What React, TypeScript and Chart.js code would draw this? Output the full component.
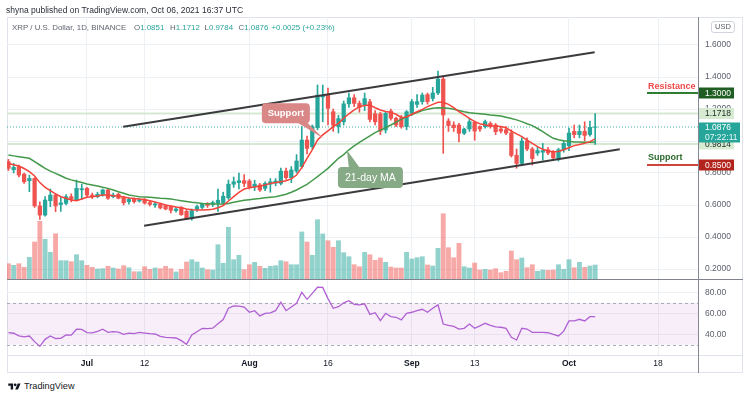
import React, { useEffect, useRef } from 'react';
import { Chart, registerables } from 'chart.js';

Chart.register(...registerables);

const FONT = '"Liberation Sans", Arial, Helvetica, sans-serif';
Chart.defaults.font.family = FONT;

// Day numbers counted from Jul 1 2021 (= 0). First candle is Jun 16 (= -15).
const FIRST_DAY = -15;

const opens = [
  0.871, 0.82, 0.84, 0.793, 0.752, 0.766, 0.594, 0.537, 0.627, 0.662, 0.603, 0.61, 0.652, 0.631, 0.695,
  0.704, 0.662, 0.652, 0.662, 0.694, 0.652, 0.667, 0.646, 0.621, 0.635, 0.625, 0.63, 0.615, 0.6, 0.606, 0.595, 0.589, 0.565, 0.585, 0.56, 0.517, 0.575, 0.585, 0.607, 0.605, 0.612, 0.615, 0.645, 0.73, 0.74, 0.752,
  0.75, 0.714, 0.725, 0.704, 0.73, 0.737, 0.735, 0.812, 0.771, 0.812, 0.84, 1.006, 0.965, 1.083, 1.275, 1.287, 1.183, 1.09, 1.12, 1.232, 1.27, 1.235, 1.225, 1.245, 1.17, 1.17, 1.069, 1.187, 1.142, 1.142, 1.09,
  1.173, 1.229, 1.246, 1.29, 1.266, 1.3, 1.387, 1.125, 1.1, 1.1, 1.048, 1.075, 1.117, 1.09, 1.09, 1.11, 1.1, 1.075, 1.07, 1.05, 0.91, 0.86, 1.0, 0.95, 0.925, 0.93, 0.945, 0.93, 0.89, 0.945,
  0.97, 1.06, 1.04, 1.06, 1.04, 1.0851,
];
const highs = [
  0.885, 0.86, 0.85, 0.8, 0.787, 0.77, 0.62, 0.652, 0.7, 0.67, 0.65, 0.665, 0.67, 0.756, 0.73,
  0.71, 0.675, 0.68, 0.7, 0.7, 0.675, 0.675, 0.655, 0.645, 0.645, 0.64, 0.64, 0.625, 0.615, 0.612, 0.6, 0.595, 0.585, 0.59, 0.57, 0.575, 0.6, 0.612, 0.615, 0.625, 0.7, 0.68, 0.756, 0.775, 0.8, 0.79,
  0.76, 0.755, 0.735, 0.745, 0.765, 0.765, 0.83, 0.83, 0.84, 0.915, 1.09, 1.03, 1.1, 1.35, 1.35, 1.33, 1.2, 1.16, 1.25, 1.3, 1.29, 1.25, 1.3, 1.26, 1.19, 1.18, 1.18, 1.2, 1.15, 1.16, 1.19,
  1.26, 1.29, 1.3, 1.3, 1.335, 1.4375, 1.4, 1.14, 1.12, 1.11, 1.08, 1.14, 1.125, 1.095, 1.13, 1.12, 1.11, 1.09, 1.09, 1.07, 0.95, 1.02, 1.02, 0.96, 0.96, 0.985, 0.96, 0.94, 0.955, 1.0,
  1.08, 1.1, 1.1, 1.12, 1.125, 1.1712,
];
const lows = [
  0.815, 0.8, 0.775, 0.735, 0.683, 0.585, 0.51, 0.53, 0.59, 0.558, 0.56, 0.6, 0.62, 0.628, 0.635,
  0.65, 0.64, 0.645, 0.655, 0.635, 0.645, 0.638, 0.6, 0.605, 0.612, 0.618, 0.605, 0.595, 0.585, 0.575, 0.57, 0.55, 0.555, 0.535, 0.51, 0.505, 0.56, 0.575, 0.585, 0.59, 0.56, 0.6, 0.635, 0.71, 0.7, 0.715,
  0.7, 0.69, 0.685, 0.69, 0.68, 0.72, 0.725, 0.76, 0.74, 0.8, 0.83, 0.92, 0.95, 1.07, 1.12, 1.1, 1.06, 1.05, 1.1, 1.21, 1.215, 1.18, 1.19, 1.12, 1.1, 1.04, 1.05, 1.13, 1.09, 1.08, 1.07,
  1.16, 1.21, 1.23, 1.23, 1.25, 1.29, 0.923, 1.06, 1.06, 0.995, 1.04, 1.06, 1.005, 1.06, 1.08, 1.08, 1.04, 1.05, 1.04, 0.9, 0.83, 0.85, 0.94, 0.85, 0.91, 0.88, 0.915, 0.885, 0.875, 0.93,
  0.94, 1.02, 1.02, 1.0, 1.03, 0.9784,
];
const closes = [
  0.829, 0.835, 0.787, 0.745, 0.766, 0.594, 0.537, 0.631, 0.662, 0.594, 0.613, 0.652, 0.636, 0.704, 0.702,
  0.662, 0.652, 0.667, 0.694, 0.642, 0.662, 0.642, 0.614, 0.635, 0.621, 0.633, 0.612, 0.604, 0.607, 0.582, 0.575, 0.567, 0.575, 0.54, 0.515, 0.565, 0.59, 0.607, 0.597, 0.615, 0.63, 0.655, 0.73, 0.745, 0.752, 0.735,
  0.714, 0.73, 0.694, 0.735, 0.745, 0.75, 0.812, 0.771, 0.819, 0.875, 1.006, 0.954, 1.09, 1.287, 1.285, 1.204, 1.1, 1.14, 1.232, 1.27, 1.235, 1.21, 1.265, 1.135, 1.12, 1.062, 1.173, 1.142, 1.1, 1.09, 1.183,
  1.246, 1.246, 1.287, 1.246, 1.3, 1.387, 1.163, 1.096, 1.083, 1.048, 1.075, 1.121, 1.062, 1.075, 1.121, 1.09, 1.058, 1.062, 1.05, 0.91, 0.86, 1.0, 0.95, 0.89, 0.94, 0.94, 0.925, 0.895, 0.945, 0.985,
  1.05, 1.04, 1.06, 1.035, 1.085, 1.0876,
];
// Volume in millions of XRP
const volumes = [
  612, 548, 612, 468, 868, 1480, 2308, 1588, 1068, 1812, 732, 732, 692, 972, 732,
  548, 468, 400, 412, 508, 440, 400, 532, 452, 292, 292, 492, 388, 440, 412, 508, 412, 280, 388, 680, 772, 680, 440, 372, 360, 1372, 628, 2068, 772, 948, 372,
  572, 668, 508, 428, 508, 532, 732, 692, 572, 572, 1880, 1480, 948, 2372, 1800, 1532, 1268, 1532, 1052, 892, 572, 492, 1068, 972, 748, 840, 668, 480, 440, 440, 1068,
  800, 852, 892, 560, 520, 1228, 2612, 1252, 852, 1428, 492, 440, 640, 360, 388, 360, 412, 252, 308, 1120, 772, 840, 452, 572, 308, 360, 348, 360, 572, 388,
  772, 452, 668, 468, 520, 560,
];
const maFast = [
  0.86, 0.852, 0.844, 0.828, 0.808, 0.781, 0.74, 0.71, 0.69, 0.669, 0.652, 0.642, 0.631, 0.627, 0.637,
  0.648, 0.652, 0.656, 0.662, 0.662, 0.658, 0.656, 0.65, 0.644, 0.64, 0.637, 0.635, 0.627, 0.619, 0.61, 0.6, 0.594, 0.587, 0.583, 0.575, 0.571, 0.569, 0.569, 0.571, 0.573, 0.583, 0.596, 0.625, 0.652, 0.679, 0.7,
  0.708, 0.713, 0.719, 0.725, 0.735, 0.74, 0.746, 0.752, 0.763, 0.787, 0.833, 0.892, 0.944, 1.006, 1.038, 1.063, 1.09, 1.11, 1.142, 1.17, 1.195, 1.215, 1.222, 1.225, 1.208, 1.194, 1.185, 1.179, 1.167, 1.146, 1.15,
  1.167, 1.183, 1.198, 1.215, 1.229, 1.242, 1.242, 1.229, 1.208, 1.183, 1.163, 1.142, 1.121, 1.108, 1.1, 1.096, 1.094, 1.09, 1.083, 1.062, 1.045, 1.027, 1.006, 0.985, 0.965, 0.948, 0.938, 0.933, 0.935, 0.945,
  0.958, 0.971, 0.978, 0.985, 0.996, 1.013,
];
const ma21 = [
  0.912, 0.907, 0.902, 0.897, 0.892, 0.871, 0.85, 0.829, 0.812, 0.798, 0.783, 0.767, 0.757, 0.748, 0.74,
  0.731, 0.725, 0.719, 0.711, 0.704, 0.694, 0.683, 0.673, 0.662, 0.657, 0.652, 0.65, 0.648, 0.645, 0.642, 0.64, 0.637, 0.632, 0.627, 0.622, 0.617, 0.614, 0.61, 0.608, 0.606, 0.606, 0.606, 0.61, 0.617, 0.623, 0.629,
  0.633, 0.637, 0.641, 0.646, 0.649, 0.652, 0.659, 0.667, 0.68, 0.694, 0.712, 0.729, 0.753, 0.777, 0.803, 0.829, 0.86, 0.892, 0.915, 0.945, 0.97, 0.992, 1.012, 1.032, 1.052, 1.068, 1.084, 1.1, 1.118, 1.135, 1.152,
  1.165, 1.178, 1.19, 1.198, 1.204, 1.208, 1.207, 1.204, 1.198, 1.19, 1.183, 1.177, 1.173, 1.17, 1.167, 1.163, 1.16, 1.156, 1.148, 1.14, 1.132, 1.121, 1.108, 1.096, 1.078, 1.058, 1.037, 1.017, 1.008, 1.002,
  0.998, 0.994, 0.993, 0.992, 0.992, 0.993,
];
const rsiValues = [
  41.6, 41, 38.5, 37.5, 38.4, 33, 28.5, 35.2, 38.4, 36, 36.2, 39.4, 39.2, 44.8, 44.6,
  41.6, 41.4, 42.8, 44.8, 41.9, 42.5, 42, 40, 41.2, 40.6, 41.9, 41.2, 40.6, 40.3, 38, 37, 36.8, 36.5, 34, 30.5, 39.4, 42.5, 45.7, 45.5, 45.8, 50, 54, 64.8, 67, 66.8, 66,
  61, 62.5, 57.5, 60, 60.5, 62.5, 70.5, 62.5, 66, 69.5, 80, 73.3, 79, 84.8, 84.6, 74, 64.8, 66.3, 70, 72, 68.5, 68, 69, 59, 60.6, 53, 60, 56.8, 56.2, 53.7, 60,
  61, 62.5, 63.8, 61, 64.8, 68, 49.8, 48.5, 47.5, 45, 45.7, 49.8, 45.7, 48, 50.5, 48.5, 47, 46.7, 45.7, 37.1, 34.6, 45.7, 45, 41.9, 41.9, 41.8, 41.5, 40, 38.4, 43,
  52.7, 52.7, 54.3, 52.7, 56.8, 56.8,
];

const priceTicks = [0.2, 0.4, 0.6, 0.8, 1.0, 1.2, 1.4, 1.6];
const rsiTicks = [40, 60, 80];
const timeTickDays = [0, 11, 31, 46, 62, 74, 92, 109];
const timeTickLabels = ['Jul', '12', 'Aug', '16', 'Sep', '13', 'Oct', '18'];

// Channel drawn on the chart (day, price)
const upperChannel = [{ x: 6.9, y: 1.089 }, { x: 96.9, y: 1.554 }];
const lowerChannel = [{ x: 10.9, y: 0.471 }, { x: 101.7, y: 0.948 }];

const LAST_PRICE = 1.0876;
const RANGE_HIGH = 1.1718;
const RANGE_LOW = 0.9814;
const RESISTANCE = 1.3;
const SUPPORT = 0.85;
const LEVEL_START_DAY = 106.9;
const RSI_UPPER = 70;
const RSI_LOWER = 30;

// Axis ranges
const X_MIN = -15.27;
const X_MAX = 116.63;
const P_MIN = 0.1375;
const P_MAX = 1.775;
const V_MAX = 10480;
const R_MIN = 20.3;
const R_MAX = 91.7;

// Callouts: anchor (day, price) and box centre (day, price)
const supportCallout = { text: 'Support', tipDay: 45.1, tipPrice: 1.017, boxDay: 37.96, boxPrice: 1.173 };
const maCallout = { text: '21-day MA', tipDay: 49.6, tipPrice: 0.944, boxDay: 54.1, boxPrice: 0.772 };

const UP = '#26a69a';
const DOWN = '#ef5350';
const UP_VOL = 'rgba(38,166,154,0.5)';
const DOWN_VOL = 'rgba(239,83,80,0.5)';
const GRID = '#edf0f5';
const AXIS_TEXT = '#5d606b';

function rrect(ctx: CanvasRenderingContext2D, x: number, y: number, w: number, h: number, r: number) {
  ctx.beginPath();
  if ((ctx as any).roundRect) (ctx as any).roundRect(x, y, w, h, r);
  else ctx.rect(x, y, w, h);
}

const fitVertical = (s: any) => {
  s.width = 52;
  s.paddingTop = 0;
  s.paddingBottom = 0;
};

const annotationPlugin = {
  id: 'annot',
  afterDraw(chart: any) {
    const { ctx, chartArea } = chart;
    const xs = chart.scales.x;
    const ys = chart.scales.y;
    const px = (d: number) => xs.getPixelForValue(d);
    const py = (p: number) => ys.getPixelForValue(p);
    ctx.save();

    // Support callout
    {
      const cx = px(supportCallout.boxDay), cy = py(supportCallout.boxPrice);
      const w = 48, h = 20;
      const l = cx - w / 2, t = cy - h / 2;
      ctx.fillStyle = '#d98787';
      rrect(ctx, l, t, w, h, 4);
      ctx.fill();
      ctx.beginPath();
      ctx.moveTo(l + w - 13, t + h - 1);
      ctx.lineTo(px(supportCallout.tipDay), py(supportCallout.tipPrice));
      ctx.lineTo(l + w - 5, t + h - 3);
      ctx.closePath();
      ctx.fill();
      ctx.fillStyle = '#ffffff';
      ctx.font = `bold 9.5px ${FONT}`;
      ctx.textAlign = 'center';
      ctx.textBaseline = 'middle';
      ctx.fillText(supportCallout.text, cx, cy + 0.5);
    }
    // 21-day MA callout
    {
      const cx = px(maCallout.boxDay), cy = py(maCallout.boxPrice);
      const w = 65, h = 21;
      const l = cx - w / 2, t = cy - h / 2;
      ctx.fillStyle = '#86a986';
      rrect(ctx, l, t, w, h, 4);
      ctx.fill();
      ctx.beginPath();
      ctx.moveTo(l + 11, t + 1);
      ctx.lineTo(px(maCallout.tipDay), py(maCallout.tipPrice));
      ctx.lineTo(l + 22, t + 1);
      ctx.closePath();
      ctx.fill();
      ctx.fillStyle = '#ffffff';
      ctx.font = `10.5px ${FONT}`;
      ctx.textAlign = 'center';
      ctx.textBaseline = 'middle';
      ctx.fillText(maCallout.text, cx, cy + 0.5);
    }

    // Level labels
    ctx.textAlign = 'left';
    ctx.textBaseline = 'middle';
    ctx.font = `bold 9px ${FONT}`;
    ctx.fillStyle = '#ef4a4a';
    ctx.fillText('Resistance', px(LEVEL_START_DAY) + 1, py(RESISTANCE) - 6);
    ctx.fillStyle = '#2c6a2c';
    ctx.fillText('Support', px(LEVEL_START_DAY) + 1, py(SUPPORT) - 7);

    // Price tags on the axis
    const tagLeft = chartArea.right + 1;
    const tag = (value: number, bg: string, fg: string) => {
      const y = py(value);
      ctx.fillStyle = bg;
      ctx.fillRect(tagLeft, y - 5.5, 35, 11);
      ctx.fillStyle = fg;
      ctx.font = `8.5px ${FONT}`;
      ctx.textAlign = 'left';
      ctx.fillText(value.toFixed(4), tagLeft + 6, y + 0.5);
    };
    tag(RESISTANCE, '#1f5e22', '#ffffff');
    tag(RANGE_HIGH, '#d7ebd3', '#22302a');
    tag(RANGE_LOW, '#d7ebd3', '#22302a');
    tag(SUPPORT, '#b3241d', '#ffffff');
    {
      const y = py(LAST_PRICE);
      ctx.fillStyle = UP;
      ctx.fillRect(tagLeft, y - 4.5, 41, 20);
      ctx.fillStyle = '#ffffff';
      ctx.font = `8.5px ${FONT}`;
      ctx.fillText(LAST_PRICE.toFixed(4), tagLeft + 6, y + 0.8);
      ctx.fillStyle = '#e6f6f4';
      ctx.fillText('07:22:11', tagLeft + 6, y + 10.5);
    }
    ctx.restore();
  },
};

const rsiBandPlugin = {
  id: 'rsiBand',
  beforeDatasetsDraw(chart: any) {
    const { ctx, chartArea: a } = chart;
    const ys = chart.scales.y;
    const top = ys.getPixelForValue(RSI_UPPER);
    const bot = ys.getPixelForValue(RSI_LOWER);
    ctx.save();
    ctx.fillStyle = 'rgba(156,39,176,0.08)';
    ctx.fillRect(a.left, top, a.right - a.left, bot - top);
    ctx.strokeStyle = '#a9acb5';
    ctx.lineWidth = 1;
    ctx.setLineDash([3, 3]);
    [top, bot].forEach((yy: number) => {
      ctx.beginPath();
      ctx.moveTo(a.left, Math.round(yy) + 0.5);
      ctx.lineTo(a.right, Math.round(yy) + 0.5);
      ctx.stroke();
    });
    ctx.restore();
  },
};

export default function App() {
  const mainRef = useRef<HTMLCanvasElement>(null);
  const rsiRef = useRef<HTMLCanvasElement>(null);

  useEffect(() => {
    document.body.style.margin = '0';
    const days = closes.map((_, i) => FIRST_DAY + i);
    const isUp = closes.map((c, i) => c >= opens[i]);
    const candleColors = isUp.map((u) => (u ? UP : DOWN));
    const volColors = isUp.map((u) => (u ? UP_VOL : DOWN_VOL));

    const levelLine = (y: number, color: string, width: number, order: number, from = X_MIN, dash: number[] = []) => ({
      type: 'line' as const,
      data: [{ x: from, y }, { x: X_MAX, y }],
      borderColor: color,
      borderWidth: width,
      borderDash: dash,
      pointRadius: 0,
      yAxisID: 'y',
      order,
    });

    const main = new Chart(mainRef.current as HTMLCanvasElement, {
      type: 'bar',
      data: {
        datasets: [
          levelLine(RANGE_HIGH, '#d5e9d2', 2, 20),
          levelLine(RANGE_LOW, '#d5e9d2', 2, 20),
          levelLine(LAST_PRICE, '#3fb0a5', 1, 19, X_MIN, [1, 2]),
          {
            type: 'bar',
            data: days.map((d, i) => ({ x: d, y: volumes[i] })),
            backgroundColor: volColors,
            yAxisID: 'yv',
            grouped: false,
            barThickness: 4.2,
            order: 18,
          } as any,
          {
            type: 'bar',
            data: days.map((d, i) => ({ x: d, y: [lows[i], highs[i]] })),
            backgroundColor: candleColors,
            yAxisID: 'y',
            grouped: false,
            barThickness: 1,
            order: 15,
          } as any,
          {
            type: 'bar',
            data: days.map((d, i) => ({ x: d, y: [opens[i], closes[i]] })),
            backgroundColor: candleColors,
            yAxisID: 'y',
            grouped: false,
            barThickness: 3.6,
            order: 14,
          } as any,
          {
            type: 'line',
            data: days.map((d, i) => ({ x: d, y: ma21[i] })),
            borderColor: '#43994a',
            borderWidth: 1.5,
            pointRadius: 0,
            yAxisID: 'y',
            order: 10,
          },
          {
            type: 'line',
            data: days.map((d, i) => ({ x: d, y: maFast[i] })),
            borderColor: '#f4433b',
            borderWidth: 1.5,
            pointRadius: 0,
            yAxisID: 'y',
            order: 9,
          },
          {
            type: 'line',
            data: upperChannel,
            borderColor: '#3b3b3e',
            borderWidth: 2,
            pointRadius: 0,
            yAxisID: 'y',
            order: 5,
          },
          {
            type: 'line',
            data: lowerChannel,
            borderColor: '#3b3b3e',
            borderWidth: 2,
            pointRadius: 0,
            yAxisID: 'y',
            order: 5,
          },
          levelLine(RESISTANCE, '#2e7d32', 2, 4, LEVEL_START_DAY),
          levelLine(SUPPORT, '#d0443e', 2, 4, LEVEL_START_DAY),
        ] as any,
      },
      options: {
        responsive: false,
        animation: false,
        events: [],
        layout: { padding: { left: 7, top: 17, right: 0, bottom: 1 } },
        plugins: { legend: { display: false }, tooltip: { enabled: false } },
        scales: {
          x: {
            type: 'linear',
            min: X_MIN,
            max: X_MAX,
            offset: false,
            grid: { color: GRID, drawTicks: false, offset: false },
            border: { display: false },
            ticks: { display: false },
            afterBuildTicks: (s: any) => {
              s.ticks = timeTickDays.map((v) => ({ value: v }));
            },
            afterFit: (s: any) => {
              s.height = 0;
              s.paddingLeft = 0;
              s.paddingRight = 0;
            },
          },
          y: {
            type: 'linear',
            position: 'right',
            min: P_MIN,
            max: P_MAX,
            grid: { color: GRID, drawTicks: false },
            border: { display: true, color: '#868993' },
            ticks: {
              autoSkip: false,
              padding: 7,
              color: AXIS_TEXT,
              font: { size: 8.5, family: FONT },
              callback: (v: any) => Number(v).toFixed(4),
            },
            afterBuildTicks: (s: any) => {
              s.ticks = priceTicks.map((v) => ({ value: v }));
            },
            afterFit: fitVertical,
          },
          yv: { type: 'linear', display: false, min: 0, max: V_MAX },
        } as any,
      },
      plugins: [annotationPlugin],
    });

    const rsiChart = new Chart(rsiRef.current as HTMLCanvasElement, {
      type: 'line',
      data: {
        datasets: [
          {
            data: days.map((d, i) => ({ x: d, y: rsiValues[i] })),
            borderColor: '#b060d2',
            borderWidth: 1.3,
            pointRadius: 0,
          },
        ],
      },
      options: {
        responsive: false,
        animation: false,
        events: [],
        layout: { padding: { left: 7, top: 0, right: 0, bottom: 0 } },
        plugins: { legend: { display: false }, tooltip: { enabled: false } },
        scales: {
          x: {
            type: 'linear',
            min: X_MIN,
            max: X_MAX,
            grid: { color: GRID, drawTicks: false },
            border: { display: false },
            ticks: {
              autoSkip: false,
              maxRotation: 0,
              padding: 4,
              color: '#131722',
              font: (ctx: any) => ({
                size: 8.5,
                family: FONT,
                weight: /^[A-Z]/.test(timeTickLabels[ctx.index] || '') ? 'bold' : 'normal',
              }),
              callback: (_v: any, i: number) => timeTickLabels[i],
            },
            afterBuildTicks: (s: any) => {
              s.ticks = timeTickDays.map((v) => ({ value: v }));
            },
            afterFit: (s: any) => {
              s.height = 18;
              s.paddingLeft = 0;
              s.paddingRight = 0;
            },
          },
          y: {
            type: 'linear',
            position: 'right',
            min: R_MIN,
            max: R_MAX,
            grid: { color: GRID, drawTicks: false },
            border: { display: true, color: '#868993' },
            ticks: {
              autoSkip: false,
              padding: 7,
              color: AXIS_TEXT,
              font: { size: 8.5, family: FONT },
              callback: (v: any) => Number(v).toFixed(2),
            },
            afterBuildTicks: (s: any) => {
              s.ticks = rsiTicks.map((v) => ({ value: v }));
            },
            afterFit: fitVertical,
          },
        } as any,
      },
      plugins: [rsiBandPlugin],
    });

    return () => {
      main.destroy();
      rsiChart.destroy();
    };
  }, []);

  const abs = (s: React.CSSProperties): React.CSSProperties => ({ position: 'absolute', ...s });
  const legendGray = '#62656f';
  const legendFont = 7.9;

  return (
    <div style={abs({ left: 0, top: 0, width: 750, height: 398, background: '#ffffff', overflow: 'hidden', fontFamily: FONT })}>
      {/* frame */}
      <div style={abs({ left: 7, top: 17, width: 736, height: 356, border: '1px solid #e0e3eb', boxSizing: 'border-box' })} />
      <canvas ref={mainRef} width={750} height={280} style={abs({ left: 0, top: 0, display: 'block' })} />
      <canvas ref={rsiRef} width={750} height={93} style={abs({ left: 0, top: 280, display: 'block' })} />
      {/* separators */}
      <div style={abs({ left: 7, top: 279, width: 736, height: 1, background: '#80838d' })} />
      <div style={abs({ left: 7, top: 355, width: 736, height: 1, background: '#e0e3eb' })} />
      <div style={abs({ left: 698, top: 355, width: 1, height: 18, background: '#868993' })} />

      {/* header */}
      <div style={abs({ left: 6, top: 4, fontSize: 8.5, lineHeight: '12px', color: '#2a2e39', whiteSpace: 'nowrap' })}>
        shyna published on TradingView.com, Oct 06, 2021 16:37 UTC
      </div>
      <div style={abs({ left: 12, top: 22, fontSize: legendFont, lineHeight: '12px', color: legendGray, whiteSpace: 'nowrap' })}>
        XRP / U.S. Dollar, 1D, BINANCE
      </div>
      {[
        { l: 134, k: 'O', v: '1.0851' },
        { l: 170, k: 'H', v: '1.1712' },
        { l: 204.5, k: 'L', v: '0.9784' },
        { l: 238.5, k: 'C', v: '1.0876' },
      ].map((it) => (
        <div key={it.k} style={abs({ left: it.l, top: 22, fontSize: legendFont, lineHeight: '12px', whiteSpace: 'nowrap' })}>
          <span style={{ color: legendGray }}>{it.k}</span>
          <span style={{ color: UP }}>{it.v}</span>
        </div>
      ))}
      <div style={abs({ left: 271.5, top: 22, fontSize: legendFont, lineHeight: '12px', color: UP, whiteSpace: 'nowrap' })}>
        +0.0025 (+0.23%)
      </div>
      {/* currency box */}
      <div
        style={abs({
          left: 711,
          top: 21,
          width: 24,
          height: 12,
          border: '1px solid #d1d4dc',
          borderRadius: 3,
          boxSizing: 'border-box',
          fontSize: 7.5,
          lineHeight: '10px',
          textAlign: 'center',
          color: '#5d606b',
          background: '#fff',
        })}
      >
        USD
      </div>

      {/* footer logo */}
      <div style={abs({ left: 8, top: 380, display: 'flex', alignItems: 'center', gap: 3 })}>
        <svg width="13" height="9" viewBox="0 0 36 26">
          <path d="M14 22H7V11H0V4h14v18z" fill="#131722" />
          <circle cx="20" cy="8" r="4" fill="#131722" />
          <path d="M28 22h-8l7.5-18h8L28 22z" fill="#131722" />
        </svg>
        <span style={{ fontSize: 9.2, lineHeight: '12px', color: '#131722' }}>TradingView</span>
      </div>
    </div>
  );
}
